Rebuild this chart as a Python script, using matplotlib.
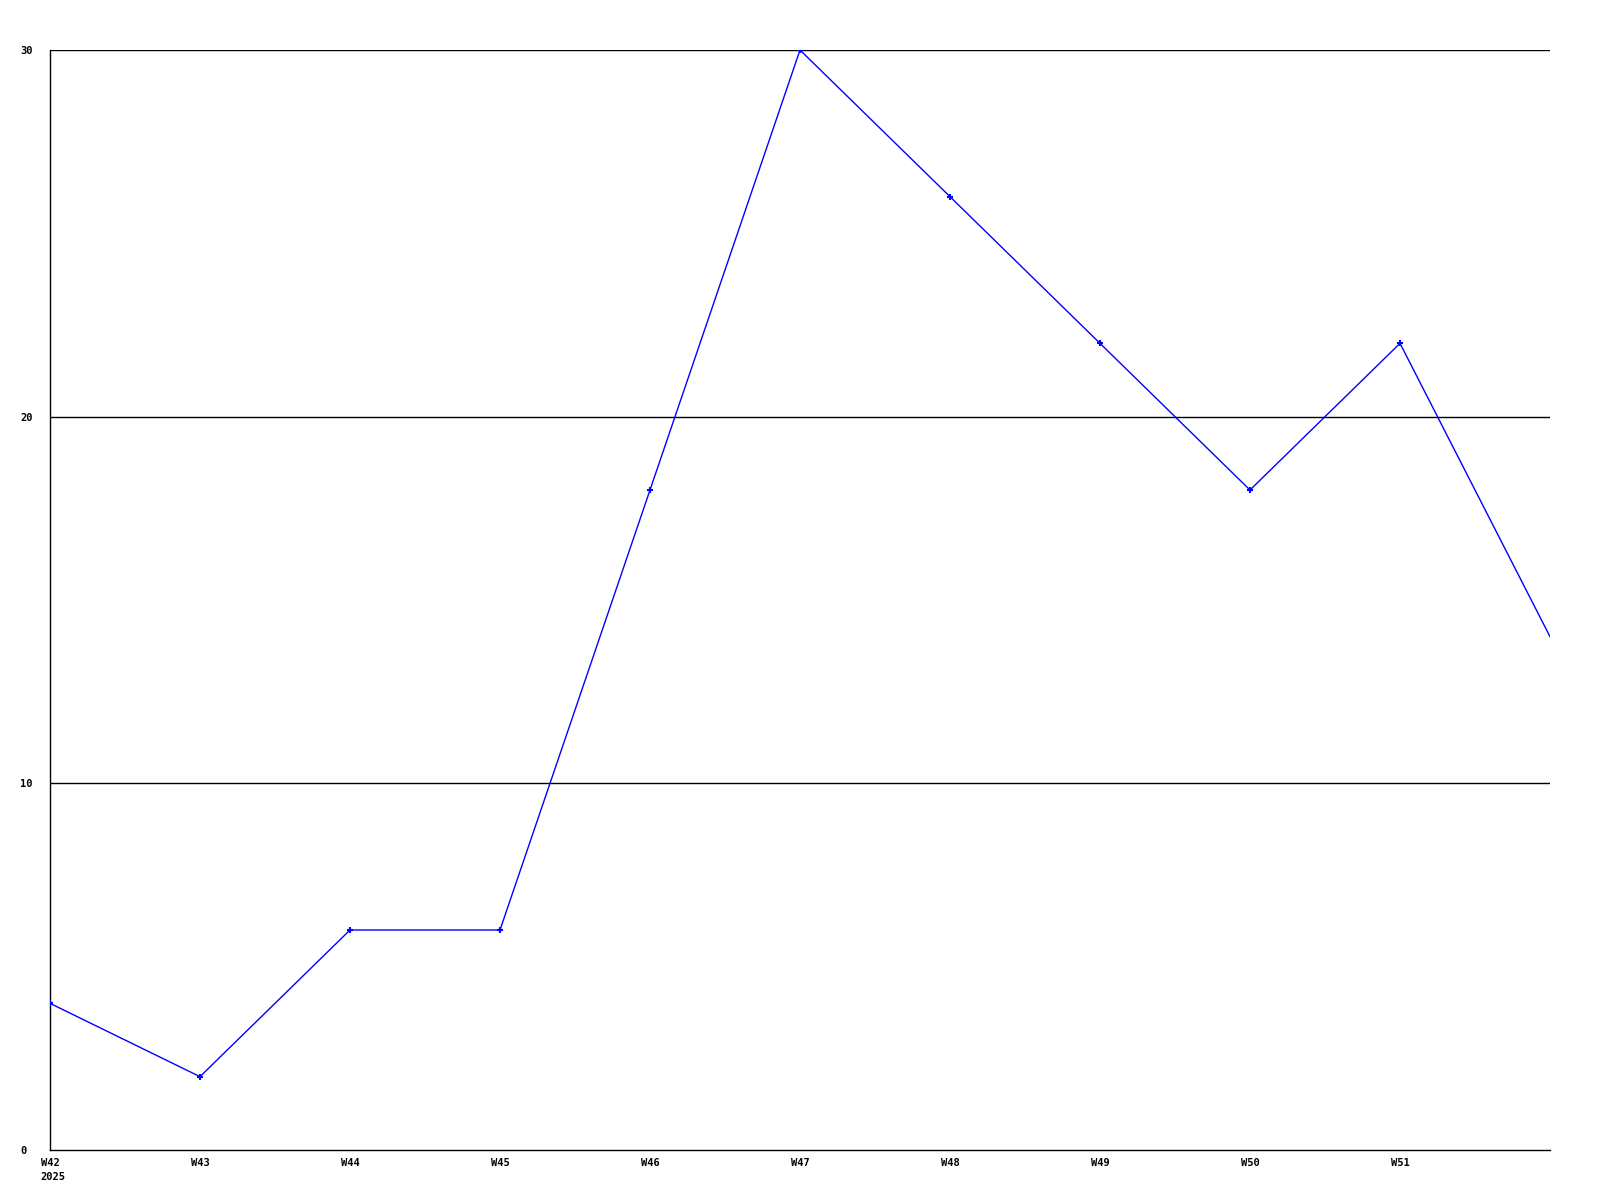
import numpy as np
import matplotlib
matplotlib.use("Agg")
import matplotlib.pyplot as plt
from matplotlib import rcParams
rcParams['font.family'] = 'DejaVu Sans Mono'
rcParams['font.weight'] = 'bold'
rcParams['font.size'] = 7.5

weeks = ['W42', 'W43', 'W44', 'W45', 'W46', 'W47', 'W48', 'W49', 'W50', 'W51', 'W52']
values = [4, 2, 6, 6, 18, 30, 26, 22, 18, 22, 14]
year = '2025'
yticks = [0, 10, 20, 30]

fig = plt.figure(figsize=(16, 12), dpi=100)
ax = fig.add_axes([50/1600, 50/1200, 1500/1600, 1100/1200])

x = np.arange(len(weeks))
# last point sits on the right edge with no marker
ax.plot(x, values, color='#0000ff', lw=1.0, marker='+', ms=4, mew=1.5,
        markevery=list(range(len(weeks) - 1)), zorder=3)

for v in yticks[1:]:
    ax.axhline(v, color='black', lw=1.0, zorder=1)

ax.set_xlim(0, len(weeks) - 1)
ax.set_ylim(0, 30)
for s in ['top', 'right']:
    ax.spines[s].set_visible(False)
ax.spines['left'].set_linewidth(1.0)
ax.spines['bottom'].set_linewidth(1.0)

ax.set_xticks(x[:-1])
ax.set_xticklabels(weeks[:-1])
ax.set_yticks(yticks)
ax.set_yticklabels([str(v) for v in yticks], ha='left')
ax.tick_params(axis='both', length=0)
ax.tick_params(axis='x', pad=6)
ax.tick_params(axis='y', pad=21.6)

ax.annotate(year, xy=(0, 0), xycoords='data', xytext=(-10, -22),
            textcoords='offset pixels', ha='left', va='top',
            fontsize=7.5, fontweight='bold')

fig.savefig('out.png', dpi=100, facecolor='white')
